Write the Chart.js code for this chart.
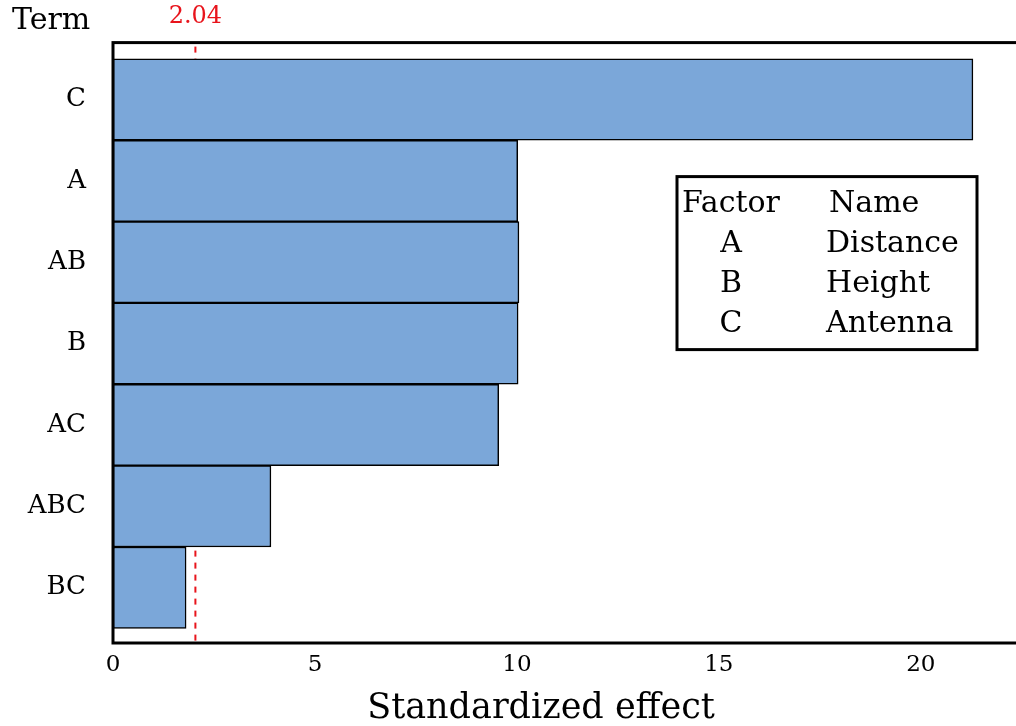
<!DOCTYPE html>
<html>
<head>
<meta charset="utf-8">
<script src="https://cdn.jsdelivr.net/npm/chart.js@4.4.1/dist/chart.umd.min.js"></script>
<style>
html, body { margin: 0; padding: 0; overflow: hidden; background: #fff; }
#wrap { position: absolute; left: 0; top: 0; width: 1060px; height: 726px; }
</style>
</head>
<body>
<div id="wrap"><canvas id="pareto" width="1060" height="726"></canvas></div>
<script>
// ---- data ----
const terms = ['C', 'A', 'AB', 'B', 'AC', 'ABC', 'BC'];
const effects = [21.29, 10.02, 10.05, 10.03, 9.55, 3.91, 1.81];
const refValue = 2.04;
const xTicks = [0, 5, 10, 15, 20];
const factors = ['A', 'B', 'C'];
const factorNames = ['Distance', 'Height', 'Antenna'];

const SERIF = '"DejaVu Serif", "Liberation Serif", serif';

// red reference line goes under the bars, frame + texts on top
const paretoExtras = {
    id: 'paretoExtras',
    beforeDatasetsDraw(chart) {
        const { ctx, chartArea } = chart;
        const x = chart.scales.x.getPixelForValue(refValue);
        ctx.save();
        ctx.strokeStyle = '#e8141c';
        ctx.lineWidth = 2;
        ctx.setLineDash([6, 6]);
        ctx.beginPath();
        ctx.moveTo(x, chartArea.top + 4);
        ctx.lineTo(x, chartArea.bottom);
        ctx.stroke();
        ctx.restore();
    },
    afterDraw(chart) {
        const { ctx, chartArea } = chart;
        const x = chart.scales.x.getPixelForValue(refValue);
        ctx.save();
        // frame
        ctx.strokeStyle = '#000';
        ctx.lineWidth = 3;
        ctx.strokeRect(chartArea.left, chartArea.top, chartArea.right - chartArea.left, chartArea.bottom - chartArea.top);

        ctx.textBaseline = 'middle';
        ctx.fillStyle = '#000';
        ctx.font = '30px ' + SERIF;
        ctx.textAlign = 'left';
        ctx.fillText('Term', 12, 21);

        // axis title
        ctx.font = '35px ' + SERIF;
        ctx.textAlign = 'center';
        ctx.fillText('Standardized effect', chartArea.left + 428, 709);

        ctx.fillStyle = '#e8141c';
        ctx.font = '24px ' + SERIF;
        ctx.fillText(refValue.toFixed(2), x, 17);

        // factor table
        const bx = chartArea.left + 564, by = chartArea.top + 134, bw = 300, bh = 173;
        ctx.fillStyle = '#fff';
        ctx.fillRect(bx, by, bw, bh);
        ctx.lineWidth = 3;
        ctx.strokeStyle = '#000';
        ctx.strokeRect(bx, by, bw, bh);
        ctx.fillStyle = '#000';
        ctx.font = '30px ' + SERIF;
        ctx.textAlign = 'left';
        ctx.fillText('Factor', bx + 5, by + 28);
        ctx.fillText('Name', bx + 152, by + 28);
        factors.forEach((f, i) => {
            const y = by + 68 + i * 40;
            ctx.textAlign = 'center';
            ctx.fillText(f, bx + 54, y);
            ctx.textAlign = 'left';
            ctx.fillText(factorNames[i], bx + 149, y);
        });
        ctx.restore();
    }
};

new Chart(document.getElementById('pareto'), {
    type: 'bar',
    data: {
        datasets: [{
            data: terms.map((t, i) => ({ x: effects[i], y: i })),
            backgroundColor: '#7ba7d9',
            borderColor: '#000',
            borderWidth: 1.5,
            borderSkipped: false,
            barPercentage: 1,
            categoryPercentage: 1
        }]
    },
    options: {
        indexAxis: 'y',
        responsive: false,
        animation: false,
        layout: { padding: { top: 41, right: 18, bottom: 0, left: 0 } },
        plugins: { legend: { display: false }, tooltip: { enabled: false } },
        scales: {
            x: {
                type: 'linear',
                min: 0,
                max: 23,
                bounds: 'data',
                grid: { display: false, drawTicks: false },
                border: { display: false },
                ticks: {
                    stepSize: 5,
                    padding: 8,
                    color: '#000',
                    font: { family: SERIF, size: 23 },
                    callback: v => xTicks.includes(v) ? String(v) : ''
                },
                afterFit(scale) { scale.height = 83; }
            },
            y: {
                type: 'linear',
                min: -0.7,
                max: 6.68,
                bounds: 'data',
                offset: false,
                reverse: true,
                grid: { display: false, drawTicks: false },
                border: { display: false },
                afterBuildTicks(scale) {
                    scale.ticks = terms.map((t, i) => ({ value: i }));
                },
                ticks: {
                    autoSkip: false,
                    padding: 27,
                    color: '#000',
                    font: { family: SERIF, size: 26 },
                    callback: v => terms[Math.round(v)] || ''
                },
                afterFit(scale) { scale.width = 113; }
            }
        }
    },
    plugins: [paretoExtras]
});
</script>
</body>
</html>
